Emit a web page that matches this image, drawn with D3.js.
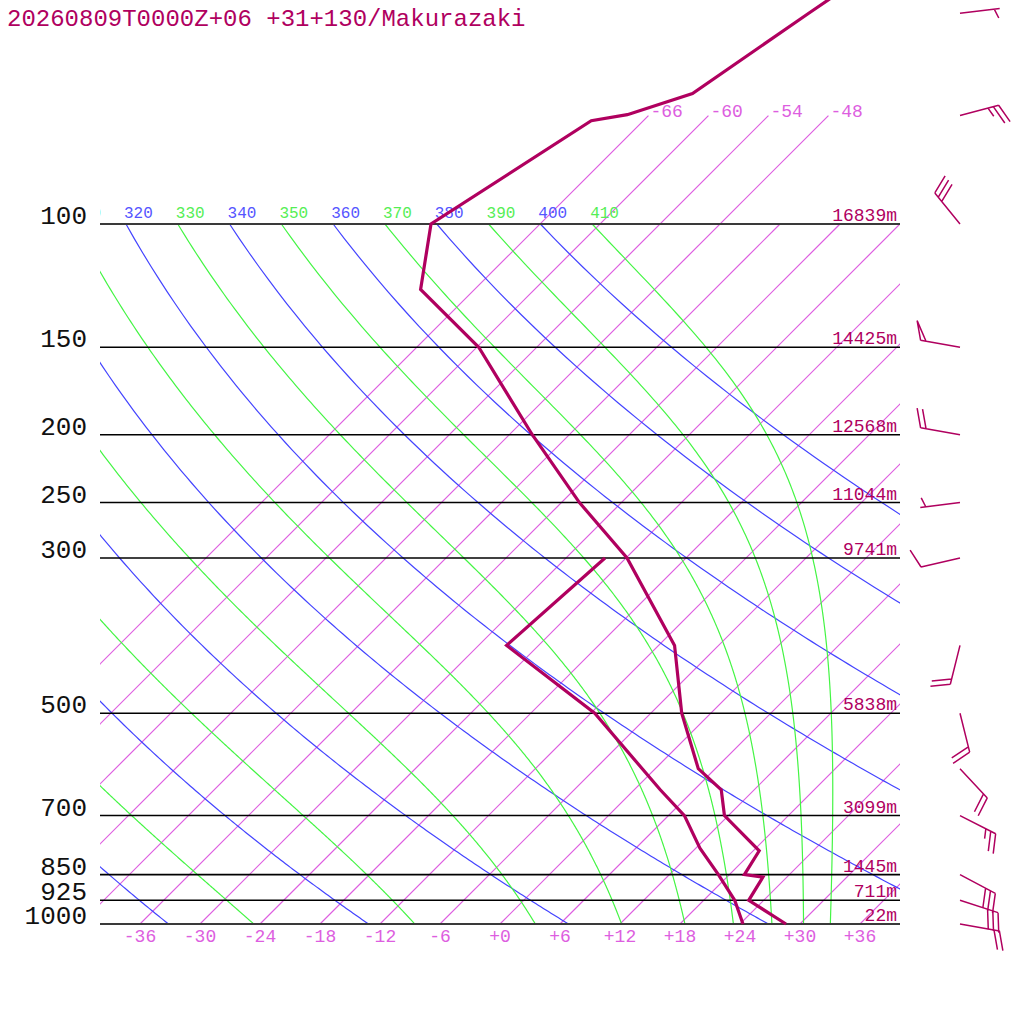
<!DOCTYPE html>
<html>
<head>
<meta charset="utf-8">
<script src="https://cdn.jsdelivr.net/npm/d3@7"></script>
<style>
  body { margin: 0; background: #fff; }
  text { font-family: "Liberation Mono", "DejaVu Sans Mono", monospace; }
</style>
</head>
<body>
<script>
// skew-T log-p sounding, Makurazaki 2026-08-09 00Z
const title = "20260809T0000Z+06 +31+130/Makurazaki";

// mandatory levels drawn as horizontal lines
const pressureLevels = [1000, 925, 850, 700, 500, 300, 250, 200, 150, 100];
const heightLabels = ["22m", "711m", "1445m", "3099m", "5838m", "9741m", "11044m", "12568m", "14425m", "16839m"];

// background lines
const isotherms = [-66, -60, -54, -48, -42, -36, -30, -24, -18, -12, -6, 0, 6, 12, 18, 24, 30, 36];
const upperIsotherms = [-66, -60, -54, -48];
const tempTicks = [-36, -30, -24, -18, -12, -6, 0, 6, 12, 18, 24, 30, 36];
const dryThetas = [240, 260, 280, 300, 320, 340, 360, 380, 400];
const dryLabels = [320, 340, 360, 380, 400];
const moistThetas = [250, 270, 290, 310, 330, 350, 370, 390, 410];
const moistLabels = [310, 330, 350, 370, 390, 410];

// temperature profile (hPa, degC)
const tempP = [1000, 925, 857, 850, 786, 700, 643, 600, 500, 400, 300, 250, 200, 150, 124, 100, 71.2, 69.8, 65.1, 50, 30];
const tempT = [28.6, 22.5, 21.6, 19.5, 18.6, 11.6, 8.7, 4.3, -2.9, -10.4, -23.9, -34.2, -45.7, -59.8, -71.4, -76.9, -71.2, -68.2, -63.8, -60.2, -53.0];

// dew point profile
const dewP = [1000, 925, 850, 779, 700, 643, 500, 400, 300];
const dewT = [24.3, 21.1, 16.9, 12.4, 7.6, 2.6, -11.6, -27.2, -26.1];

// winds (deg, kt)
const windP = [50, 70, 100, 150, 200, 250, 300, 400, 500, 600, 700, 850, 925, 1000];
const windDir = [83, 75, 321, 280, 280, 263, 257, 194, 166, 137, 117, 118, 108, 100];
const windSpd = [5, 25, 30, 50, 20, 5, 10, 20, 20, 20, 25, 30, 30, 20];

const crimson = "rgb(176,0,95)";
const isoColor = "rgb(221,94,224)";   // same tone as the isotherm labels
const dryColor = "rgb(68,68,255)";
const moistColor = "rgb(68,245,68)";

const kappa = 0.2857;

const svg = d3.select("body").append("svg")
    .attr("width", 1024)
    .attr("height", 1024);

const y = d3.scaleLog().domain([1000, 100]).range([924, 224]);
const x0 = d3.scaleLinear().domain([-40, 40]).range([100, 900]);
// 45 degree skew
const skewX = (t, p) => x0(t) + (y(1000) - y(p));

const defs = svg.append("defs");
defs.append("clipPath").attr("id", "plot")
  .append("rect").attr("x", 100).attr("y", 0).attr("width", 800).attr("height", 924);
defs.append("clipPath").attr("id", "lab")
  .append("rect").attr("x", 100).attr("y", 0).attr("width", 800).attr("height", 1024);

const grid = svg.append("g").attr("clip-path", "url(#plot)");

const line = d3.line()
  .x(d => skewX(d[1] - 273.15, d[0]))
  .y(d => y(d[0]));

// isotherms
grid.selectAll(".isotherm")
  .data(isotherms)
  .enter().append("path")
    .attr("class", "isotherm")
    .attr("d", t => {
      const top = upperIsotherms.includes(t) ? 70 : 100;
      return line([[1000, t + 273.15], [top, t + 273.15]]);
    })
    .style("fill", "none")
    .style("stroke", isoColor)
    .style("stroke-width", "1.2px");

// dry adiabats
const pSteps = [];
for (let p = 100; p <= 1000; p += 5) pSteps.push(p);

grid.selectAll(".dry")
  .data(dryThetas)
  .enter().append("path")
    .attr("class", "dry")
    .attr("d", th => line(pSteps.map(p => [p, th * Math.pow(p / 1000, kappa)])))
    .style("fill", "none")
    .style("stroke", dryColor)
    .style("stroke-width", "1.2px");

// moist (pseudo) adiabats, integrated down from 100 hPa
function lapse(p, T) {
  const Tc = T - 273.15;
  const es = 6.112 * Math.exp(17.67 * Tc / (Tc + 243.5));
  const rs = 0.622 * es / (p - es);
  const Rd = 287.04, cp = 1005.7, Lv = 2.501e6;
  return (Rd * T + Lv * rs) / (cp + Lv * Lv * rs * 0.622 / (Rd * T * T)) / p;
}

function moist(theta) {
  let p = 100, T = theta * Math.pow(p / 1000, kappa);
  const pts = [[p, T]];
  const dp = 2;
  while (p < 1000) {
    const k1 = lapse(p, T);
    const k2 = lapse(p + dp / 2, T + k1 * dp / 2);
    T += k2 * dp;
    p += dp;
    pts.push([p, T]);
  }
  return pts;
}

grid.selectAll(".moist")
  .data(moistThetas)
  .enter().append("path")
    .attr("class", "moist")
    .attr("d", th => line(moist(th)))
    .style("fill", "none")
    .style("stroke", moistColor)
    .style("stroke-width", "1.2px");

// pressure lines
svg.selectAll(".plev")
  .data(pressureLevels)
  .enter().append("line")
    .attr("class", "plev")
    .attr("x1", 100).attr("x2", 900)
    .attr("y1", d => y(d)).attr("y2", d => y(d))
    .attr("stroke", d => (d == 1000 || d == 100) ? "#3a3a3a" : "#000")
    .attr("stroke-width", d => (d == 1000 || d == 100) ? 2 : 1.6);

svg.selectAll(".plab")
  .data(pressureLevels)
  .enter().append("text")
    .attr("class", "plab")
    .attr("x", 87)
    .attr("y", d => y(d))
    .attr("text-anchor", "end")
    .attr("font-size", 26)
    .attr("fill", "#111")
    .text(d => d);

svg.selectAll(".hlab")
  .data(pressureLevels)
  .enter().append("text")
    .attr("class", "hlab")
    .attr("x", 897)
    .attr("y", d => y(d) - 3)
    .attr("text-anchor", "end")
    .attr("font-size", 18)
    .attr("fill", crimson)
    .text((d, i) => heightLabels[i]);

// temperature ticks along bottom
svg.selectAll(".tlab")
  .data(tempTicks)
  .enter().append("text")
    .attr("class", "tlab")
    .attr("x", d => x0(d))
    .attr("y", 942)
    .attr("text-anchor", "middle")
    .attr("font-size", 18)
    .attr("fill", isoColor)
    .text(d => d > 0 ? "+" + d : d == 0 ? "+0" : "-" + Math.abs(d));

svg.selectAll(".ulab")
  .data(upperIsotherms)
  .enter().append("text")
    .attr("class", "ulab")
    .attr("x", d => skewX(d, 70) + 2)
    .attr("y", y(70) + 1)
    .attr("font-size", 18)
    .attr("fill", isoColor)
    .text(d => "-" + Math.abs(d));

// theta labels at 100 hPa
const labs = svg.append("g").attr("clip-path", "url(#lab)");
const thetaLabs = dryLabels.map(t => ({ t, c: "rgb(85,85,255)" }))
  .concat(moistLabels.map(t => ({ t, c: "rgb(85,238,85)" })));
labs.selectAll(".thlab")
  .data(thetaLabs)
  .enter().append("text")
    .attr("class", "thlab")
    .attr("x", d => skewX(d.t * Math.pow(0.1, kappa) - 273.15, 100) - 2)
    .attr("y", y(100) - 6)
    .attr("font-size", 16)
    .attr("fill", d => d.c)
    .text(d => d.t);

// profiles
const prof = d3.line()
  .x(d => skewX(d[1], d[0]))
  .y(d => y(d[0]));

svg.append("path")
  .attr("d", prof(tempP.map((p, i) => [p, tempT[i]])))
  .attr("fill", "none")
  .attr("stroke", crimson)
  .attr("stroke-width", 3.2);

svg.append("path")
  .attr("d", prof(dewP.map((p, i) => [p, dewT[i]])))
  .attr("fill", "none")
  .attr("stroke", crimson)
  .attr("stroke-width", 3.2);

// wind barbs
const barbs = svg.append("g")
  .attr("stroke", crimson)
  .attr("stroke-width", 1.5)
  .attr("fill", "none");

function barb(cx, cy, dir, spd) {
  const a = dir * Math.PI / 180;
  const ux = Math.sin(a), uy = -Math.cos(a);
  const px = -uy, py = ux;
  const ang = 70 * Math.PI / 180;
  const bx = Math.cos(ang) * ux + Math.sin(ang) * px;
  const by = Math.cos(ang) * uy + Math.sin(ang) * py;
  const L = 40, step = 5.5;
  const tx = cx + ux * L, ty = cy + uy * L;
  let path = `M${cx},${cy}L${tx},${ty}`;
  let n50 = Math.floor(spd / 50);
  let rest = spd - n50 * 50;
  let n10 = Math.floor(rest / 10);
  let n5 = Math.round((rest - n10 * 10) / 5);
  let pos = 0;
  for (let i = 0; i < n50; i++) {
    const sx = tx - ux * pos, sy = ty - uy * pos;
    path += `M${sx},${sy}L${sx + bx * 20},${sy + by * 20}L${tx - ux * (pos + step)},${ty - uy * (pos + step)}`;
    pos += step * 1.3;
  }
  for (let i = 0; i < n10; i++) {
    const sx = tx - ux * pos, sy = ty - uy * pos;
    path += `M${sx},${sy}L${sx + bx * 20},${sy + by * 20}`;
    pos += step;
  }
  if (n5) {
    if (pos == 0) pos = step;
    const sx = tx - ux * pos, sy = ty - uy * pos;
    path += `M${sx},${sy}L${sx + bx * 10},${sy + by * 10}`;
  }
  barbs.append("path").attr("d", path);
}

windP.forEach((p, i) => barb(960, y(p), windDir[i], windSpd[i]));

svg.append("text")
  .attr("x", 7)
  .attr("y", 26)
  .attr("font-size", 24)
  .attr("fill", crimson)
  .text(title);
</script>
</body>
</html>
